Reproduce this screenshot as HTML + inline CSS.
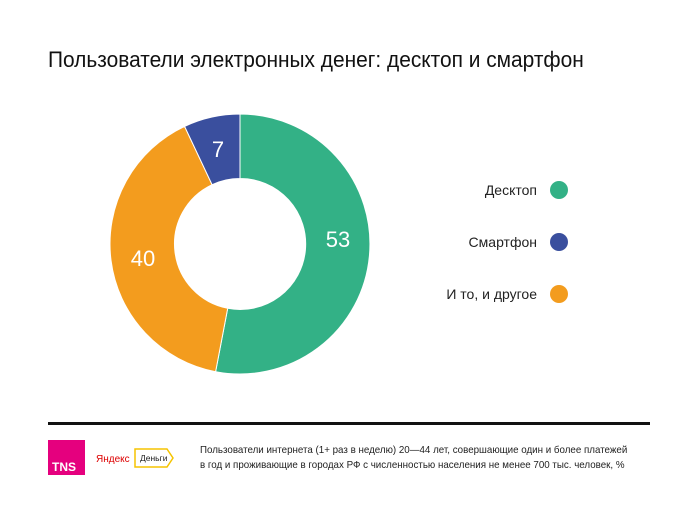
<!DOCTYPE html>
<html><head><meta charset="utf-8"><style>
body{margin:0;width:700px;height:525px;background:#fff;font-family:"Liberation Sans","DejaVu Sans",sans-serif;overflow:hidden;position:relative}
.t{position:absolute;left:48px;top:47px;font-size:22px;color:#111;white-space:nowrap;transform:scaleX(0.95);transform-origin:0 0}
.lg{position:absolute;right:163px;font-size:14px;color:#222;white-space:nowrap}
.dot{position:absolute;left:550px;width:18px;height:18px;border-radius:50%}
.fn{position:absolute;left:200px;top:443px;font-size:10.5px;line-height:15px;color:#222;white-space:nowrap;transform:scaleX(0.93);transform-origin:0 0}
</style></head><body>
<div class="t">Пользователи электронных денег: десктоп и смартфон</div>
<svg width="700" height="525" style="position:absolute;left:0;top:0">
<path d="M240 114 A130 130 0 1 1 215.6 371.7 L227.7 308.3 A65.5 65.5 0 1 0 240 178.5Z" fill="#33b186" stroke="#fff" stroke-width="1"/>
<path d="M215.6 371.7 A130 130 0 0 1 184.6 126.4 L212.1 184.7 A65.5 65.5 0 0 0 227.7 308.3Z" fill="#f39c1e" stroke="#fff" stroke-width="1"/>
<path d="M184.6 126.4 A130 130 0 0 1 240 114 L240 178.5 A65.5 65.5 0 0 0 212.1 184.7Z" fill="#3a4f9e" stroke="#fff" stroke-width="1"/>
<g font-family="Liberation Sans, sans-serif" font-size="22" fill="#fff" text-anchor="middle">
<text x="338" y="247">53</text><text x="143" y="266">40</text><text x="218" y="157">7</text></g>
<rect x="48" y="422" width="602" height="3" fill="#111"/>
<rect x="48" y="440" width="37" height="35" fill="#e5007e"/>
<text x="52" y="471" font-size="12" font-weight="bold" fill="#fff" font-family="Liberation Sans, sans-serif">TNS</text>
<text x="96" y="462" font-size="10" fill="#d00" font-family="Liberation Sans, sans-serif">Яндекс</text>
<path d="M135 449 H167 L173 458 L167 467 H135Z" fill="#fff" stroke="#f5c400" stroke-width="1.5"/>
<text x="140" y="461" font-size="8.5" fill="#222" font-family="Liberation Sans, sans-serif">Деньги</text>
</svg>
<div class="lg" style="top:182px">Десктоп</div><div class="dot" style="top:181px;background:#33b186"></div>
<div class="lg" style="top:234px">Смартфон</div><div class="dot" style="top:233px;background:#3a4f9e"></div>
<div class="lg" style="top:286px">И то, и другое</div><div class="dot" style="top:285px;background:#f39c1e"></div>
<div class="fn">Пользователи интернета (1+ раз в неделю) 20—44 лет, совершающие один и более платежей<br>в год и проживающие в городах РФ с численностью населения не менее 700 тыс. человек, %</div>
</body></html>
